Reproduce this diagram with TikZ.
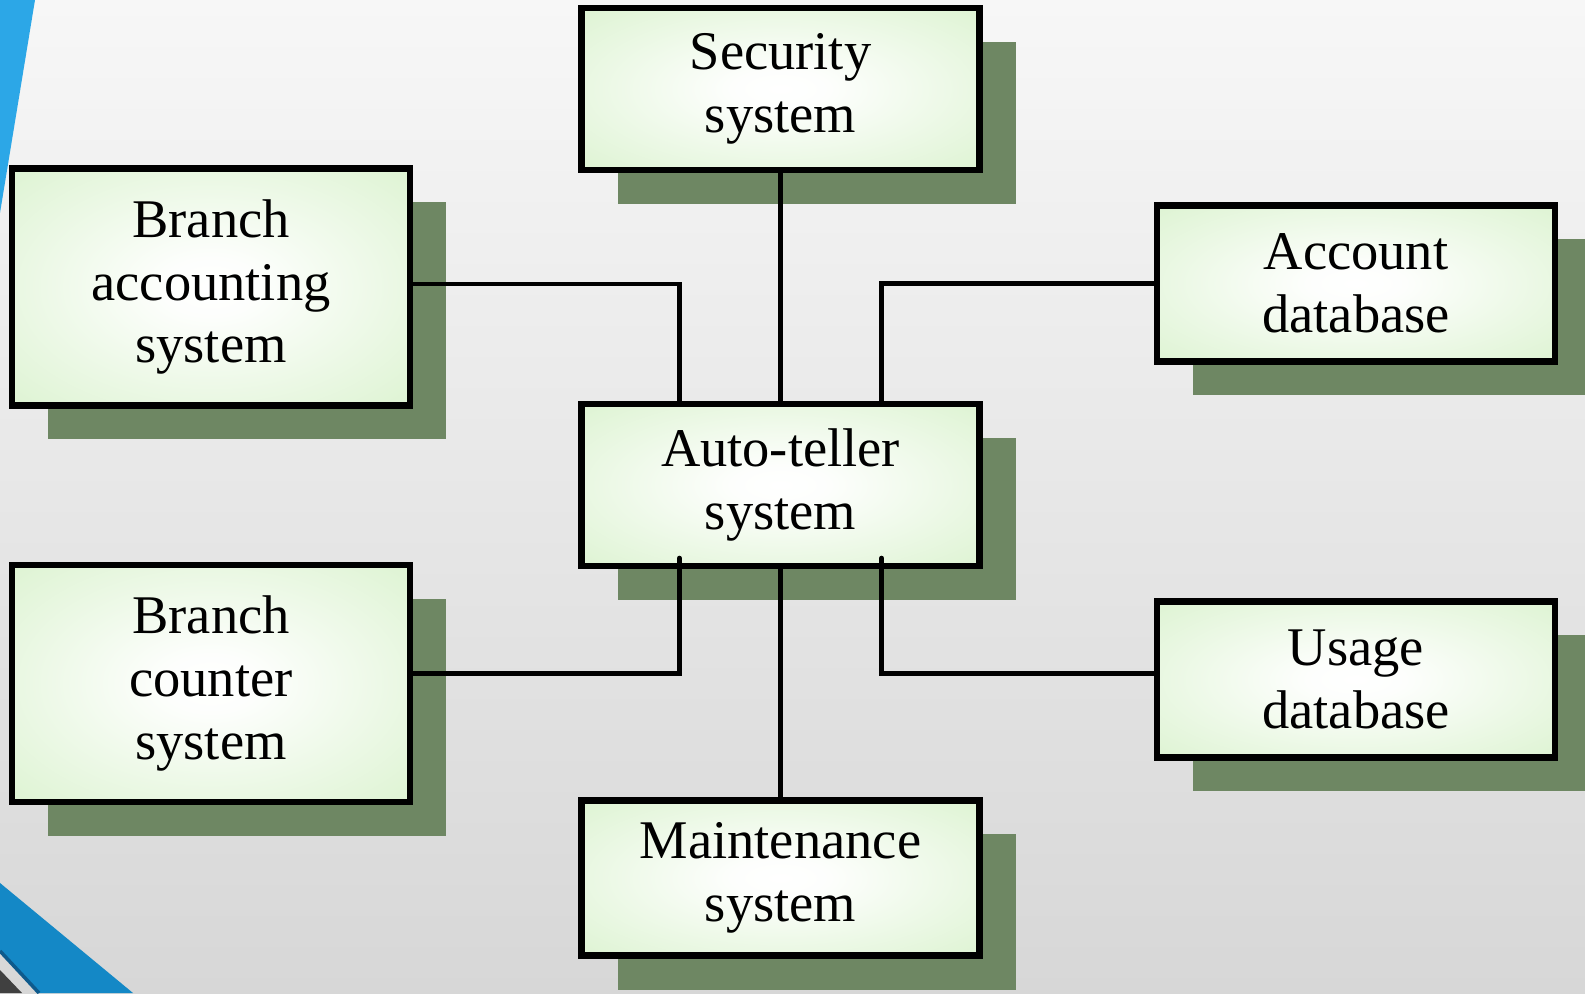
\documentclass[tikz,border=0pt]{standalone}
\usepackage{fontspec}
\setmainfont{Liberation Serif}
\usetikzlibrary{positioning, calc, shadows}

\definecolor{bgtop}{RGB}{247,247,247}
\definecolor{bgbot}{RGB}{215,215,215}
\definecolor{boxgreen}{RGB}{206,238,190}
\definecolor{shadegreen}{RGB}{110,135,99}
\definecolor{lightblue}{RGB}{44,167,231}
\definecolor{darkblue}{RGB}{20,136,198}
\definecolor{edgeblue}{RGB}{14,90,140}
\pgfdeclareradialshading{boxshade}{\pgfpoint{0bp}{0bp}}{color(0bp)=(white); color(6bp)=(white!96!boxgreen); color(50bp)=(boxgreen); color(100bp)=(boxgreen)}

\begin{document}
\begin{tikzpicture}[
  sysbox/.style={draw=black, line width=1.8pt, shading=boxshade, align=center,
    minimum width=3.98cm, font=\fontsize{15.5}{17.8}\selectfont,
    drop shadow={shadow xshift=0.36cm, shadow yshift=-0.34cm, fill=shadegreen, opacity=1}},
  link/.style={line width=1.4pt, black}]
  \useasboundingbox (0,0) rectangle (15.85,9.93);
  % slide background
  \shade[top color=bgtop, bottom color=bgbot] (0,0) rectangle (15.85,9.93);
  \fill[lightblue] (0,9.93) -- (0.35,9.93) -- (0,7.8) -- cycle;
  \fill[darkblue] (0,1.1) -- (1.33,0) -- (0.38,0) -- (0,0.41) -- cycle;
  \draw[edgeblue, line width=1pt] (0,0.42) -- (0.39,0);
  \fill[black!75] (0,0.23) -- (0.22,0) -- (0,0) -- cycle;

  \node[sysbox, minimum height=1.62cm] (sec) at (7.805,9.04) {Security\\system};
  \node[sysbox, minimum height=2.37cm] (bacc) at (2.11,7.06) {Branch\\accounting\\system};
  \node[sysbox, minimum height=1.56cm] (acct) at (13.56,7.095) {Account\\database};
  \node[sysbox, minimum height=1.62cm] (atm) at (7.805,5.08) {Auto-teller\\system};
  \node[sysbox, minimum height=2.37cm] (bcnt) at (2.11,3.095) {Branch\\counter\\system};
  \node[sysbox, minimum height=1.56cm] (usage) at (13.56,3.135) {Usage\\database};
  \node[sysbox, minimum height=1.55cm] (maint) at (7.805,1.15) {Maintenance\\system};

  \coordinate (tl) at ($(atm.north west)!0.25!(atm.north east)$);
  \coordinate (tr) at ($(atm.north west)!0.75!(atm.north east)$);
  \coordinate (bl) at ($(atm.south west)!0.25!(atm.south east)+(0,0.11)$);
  \coordinate (br) at ($(atm.south west)!0.75!(atm.south east)+(0,0.11)$);

  \draw[link] (sec.south) -- (atm.north);
  \draw[link] ([yshift=0.3mm]bacc.east) -| (tl);
  \draw[link] (acct.west) -| (tr);
  \draw[link, line cap=round] ([yshift=1mm]bcnt.east) -| (bl);
  \draw[link, line cap=round] ([yshift=0.6mm]usage.west) -| (br);
  \draw[link] (atm.south) -- (maint.north);
\end{tikzpicture}
\end{document}
